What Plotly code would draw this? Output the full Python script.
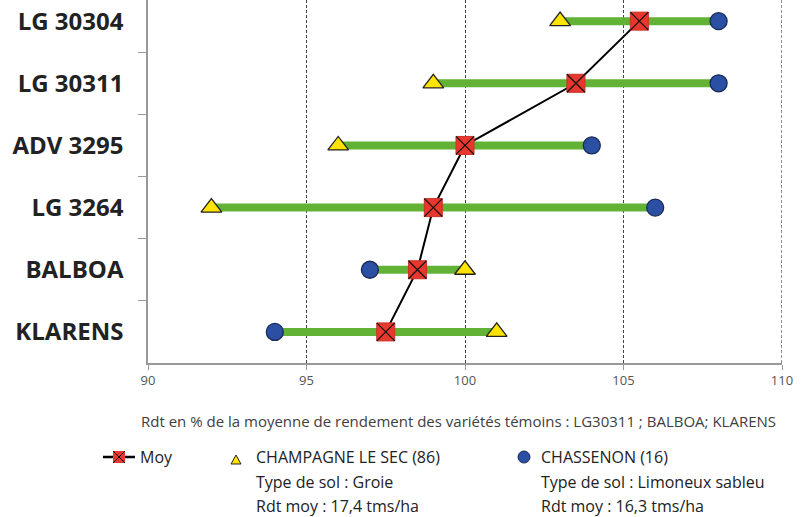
import plotly.graph_objects as go

varieties = ["LG 30304", "LG 30311", "ADV 3295", "LG 3264", "BALBOA", "KLARENS"]
champagne = [103, 99, 96, 92, 100, 101]      # CHAMPAGNE LE SEC (86)
chassenon = [108, 108, 104, 106, 97, 94]     # CHASSENON (16)
moy = [105.5, 103.5, 100, 99, 98.5, 97.5]    # Moy
x_ticks = [90, 95, 100, 105, 110]
x_title = "Rdt en % de la moyenne de rendement des variétés témoins : LG30311 ; BALBOA; KLARENS"

W, H = 811, 517
ML, MR, MT, MB = 148, 29, 0, 154
PW, PH = W - ML - MR, H - MT - MB

def px(xp):
    return (xp - ML) / PW

def py(yp):
    return (H - MB - yp) / PH

GREEN = "#62B236"
RED = "#E8382D"
YELLOW = "#FFE400"
BLUE = "#2A4FA3"
FONT = "Open Sans"

fig = go.Figure()

# green range bars
bx, by = [], []
for v, a, b in zip(varieties, champagne, chassenon):
    bx += [min(a, b), max(a, b), None]
    by += [v, v, None]
fig.add_trace(go.Scatter(x=bx, y=by, mode="lines", line=dict(color=GREEN, width=8),
                         showlegend=False, hoverinfo="skip"))

# moy line
fig.add_trace(go.Scatter(x=moy, y=varieties, mode="lines", line=dict(color="black", width=2),
                         showlegend=False))

fig.add_trace(go.Scatter(x=champagne, y=varieties, mode="markers", name="CHAMPAGNE LE SEC (86)",
                         marker=dict(symbol="triangle-up", size=18, color=YELLOW,
                                     line=dict(color="#222", width=1.3)), showlegend=False))
fig.add_trace(go.Scatter(x=chassenon, y=varieties, mode="markers", name="CHASSENON (16)",
                         marker=dict(symbol="circle", size=17, color=BLUE,
                                     line=dict(color="#1a2a55", width=1.3)), showlegend=False))
fig.add_trace(go.Scatter(x=moy, y=varieties, mode="markers", name="Moy",
                         marker=dict(symbol="square", size=18, color=RED,
                                     line=dict(color="#c8302a", width=1)), showlegend=False))
fig.add_trace(go.Scatter(x=moy, y=varieties, mode="markers", hoverinfo="skip",
                         marker=dict(symbol="x-thin", size=18, color="black",
                                     line=dict(color="#111", width=1.2)), showlegend=False))

shapes = []
annotations = []

# right-edge dashed gridline at 110 (plotly hides gridlines on the plot edge)
shapes.append(dict(type="line", xref="x", yref="paper", x0=110, x1=110, y0=0, y1=1,
                   line=dict(color="#444", width=1.2, dash="3px,2px"), layer="below"))

# legend: Moy
ly = 457
shapes.append(dict(type="line", xref="paper", yref="paper", x0=px(103), x1=px(135), y0=py(ly), y1=py(ly),
                   line=dict(color="black", width=2.5)))
shapes.append(dict(type="rect", xref="paper", yref="paper", x0=px(113), x1=px(125), y0=py(ly + 6), y1=py(ly - 6),
                   fillcolor=RED, line=dict(color=RED, width=0)))
shapes.append(dict(type="path", xref="paper", yref="paper",
                   path=f"M{px(113)},{py(ly+6)} L{px(125)},{py(ly-6)} M{px(113)},{py(ly-6)} L{px(125)},{py(ly+6)}",
                   line=dict(color="black", width=1)))
# legend: triangle
tx, tyb = 236, 464
shapes.append(dict(type="path", xref="paper", yref="paper",
                   path=f"M{px(tx-5)},{py(tyb)} L{px(tx+5)},{py(tyb)} L{px(tx)},{py(tyb-9)} Z",
                   fillcolor=YELLOW, line=dict(color="#222", width=1)))
# legend: circle
cx, cy, r = 524, 457, 6
shapes.append(dict(type="circle", xref="paper", yref="paper", x0=px(cx - r), x1=px(cx + r),
                   y0=py(cy + r), y1=py(cy - r), fillcolor=BLUE, line=dict(color="#1a2a55", width=1)))

leg_font = dict(family=FONT, size=16, color="#222")
def txt(x, y, s):
    annotations.append(dict(xref="paper", yref="paper", x=px(x), y=py(y), text=s, showarrow=False,
                            xanchor="left", yanchor="middle", font=leg_font))
txt(138, ly, "Moy")
txt(254, ly, "CHAMPAGNE LE SEC (86)")
txt(254, ly + 25, "Type de sol : Groie")
txt(254, ly + 49, "Rdt moy : 17,4 tms/ha")
txt(539, ly, "CHASSENON (16)")
txt(539, ly + 25, "Type de sol : Limoneux sableu")
txt(539, ly + 49, "Rdt moy : 16,3 tms/ha")

annotations.append(dict(xref="paper", yref="paper", x=px(458), y=py(421), text=x_title, showarrow=False,
                        xanchor="center", yanchor="middle", font=dict(family=FONT, size=15, color="#404040")))

fig.update_layout(
    width=W, height=H, margin=dict(l=ML, r=MR, t=MT, b=MB),
    paper_bgcolor="white", plot_bgcolor="white",
    shapes=shapes, annotations=annotations, showlegend=False,
    xaxis=dict(range=[90, 110], tickvals=x_ticks, showgrid=True, gridcolor="#444", griddash="3px,2px",
               gridwidth=1.2, showline=True, linecolor="#999", linewidth=1.5, ticks="outside",
               ticklen=5, tickcolor="#999", zeroline=False,
               tickfont=dict(family=FONT, size=13, color="#555")),
    yaxis=dict(type="category", categoryorder="array", categoryarray=varieties, range=[5.5, -0.34],
               tickson="boundaries", ticks="outside", ticklen=8, tickcolor="#999", showline=True,
               linecolor="#999", linewidth=1.5, showgrid=False, zeroline=False, ticklabelstandoff=18,
               tickfont=dict(family=FONT, size=24, color="#222", weight="bold")),
)

fig.write_html("out.html", config={"displayModeBar": False},
               post_script="document.body.style.margin='0';document.body.style.overflow='hidden';")
